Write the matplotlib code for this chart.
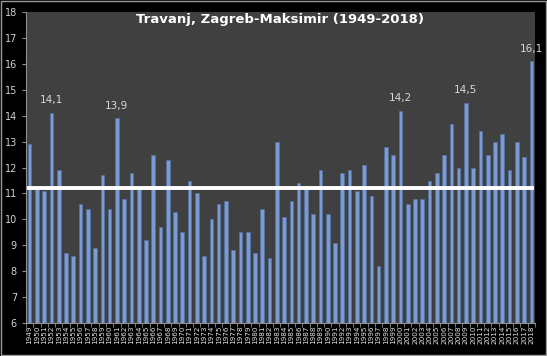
import matplotlib.pyplot as plt
from matplotlib.patches import Rectangle

godine = list(range(1949, 2019))
temperature = [12.9, 11.2, 11.1, 14.1, 11.9, 8.7, 8.6, 10.6, 10.4, 8.9,
               11.7, 10.4, 13.9, 10.8, 11.8, 11.2, 9.2, 12.5, 9.7, 12.3,
               10.3, 9.5, 11.5, 11.0, 8.6, 10.0, 10.6, 10.7, 8.8, 9.5,
               9.5, 8.7, 10.4, 8.5, 13.0, 10.1, 10.7, 11.4, 11.3, 10.2,
               11.9, 10.2, 9.1, 11.8, 11.9, 11.1, 12.1, 10.9, 8.2, 12.8,
               12.5, 14.2, 10.6, 10.8, 10.8, 11.5, 11.8, 12.5, 13.7, 12.0,
               14.5, 12.0, 13.4, 12.5, 13.0, 13.3, 11.9, 13.0, 12.4, 16.1]
prosjek = 11.2
oznaceno = [1952, 1961, 2000, 2009, 2018]
naslov = 'Travanj, Zagreb-Maksimir (1949-2018)'

fig = plt.figure(figsize=(5.47, 3.56), dpi=100, facecolor='black')
ax = fig.add_axes([0.0475, 0.0927, 0.9305, 0.8733])
ax.set_facecolor('#404040')

x = list(range(len(godine)))
ax.bar(x, [t - 6 for t in temperature], bottom=6, width=0.5,
       color='#7b9bd2', edgecolor='#55719e', linewidth=0.6, zorder=2)
ax.axhline(prosjek, color='white', linewidth=2.8, xmin=0.005, xmax=0.995, zorder=3)

for g in oznaceno:
    i = godine.index(g)
    ax.text(i, temperature[i] + 0.3, str(temperature[i]).replace('.', ','),
            ha='center', va='bottom', color='#d8d8d8', fontsize=7.5)

ax.text(0.5, 0.997, naslov, transform=ax.transAxes, ha='center', va='top',
        color='white', fontsize=9.5, fontweight='bold')

ax.set_ylim(6, 18)
ax.set_xlim(-0.5, len(godine) - 0.5)
ax.set_yticks(range(6, 19))
ax.set_xticks(x)
ax.set_xticklabels([str(g) for g in godine], rotation=90, fontsize=5.2,
                   color='#e0e0e0')
ax.set_xticks([i - 0.5 for i in range(len(godine) + 1)], minor=True)
ax.tick_params(axis='x', which='major', length=0, pad=2)
ax.tick_params(axis='x', which='minor', length=3, color='#909090')
ax.tick_params(axis='y', length=3, color='#909090', labelcolor='#d0d0d0',
               labelsize=7, pad=3.5)
for s in ['top', 'right']:
    ax.spines[s].set_visible(False)
for s in ['left', 'bottom']:
    ax.spines[s].set_color('#909090')
    ax.spines[s].set_linewidth(0.8)

fig.patches.append(Rectangle((0.001, 0.002), 0.997, 0.995, transform=fig.transFigure,
                             fill=False, edgecolor='#9a9a9a', linewidth=1))

plt.savefig('out.png', dpi=100, facecolor='black')
